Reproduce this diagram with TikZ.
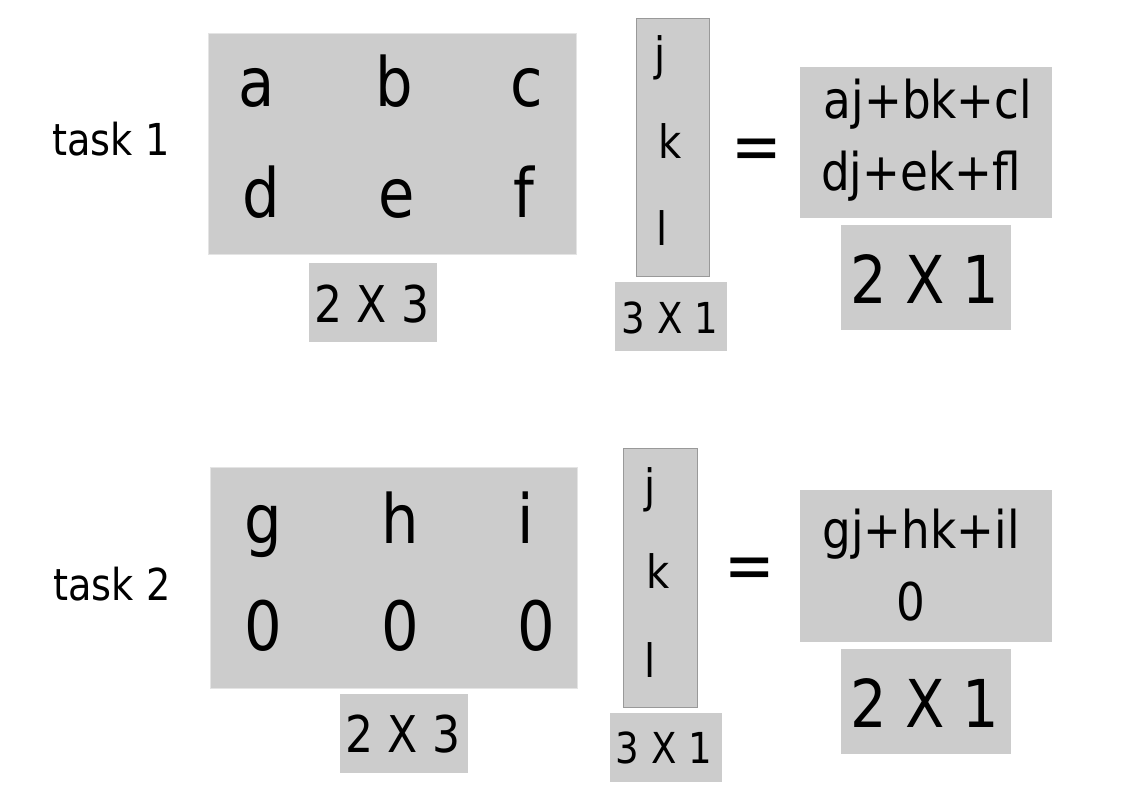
\documentclass[tikz,border=0pt]{standalone}
\usepackage{fontspec}
\setmainfont[FakeStretch=0.87]{DejaVu Sans}
\usetikzlibrary{fit, positioning}

\definecolor{boxgray}{HTML}{CCCCCC}
\definecolor{rimlight}{HTML}{E4E4E4}
\definecolor{rimdark}{HTML}{999999}

\begin{document}
\begin{tikzpicture}[
        x=0.75pt, y=-0.75pt,
        mat/.style={rectangle, fill=boxgray, draw=rimlight, line width=0.75pt, inner sep=0pt},
        vec/.style={rectangle, fill=boxgray, draw=rimdark, line width=0.75pt, inner sep=0pt},
        dimbox/.style={rectangle, fill=boxgray, draw=none, inner sep=0pt},
        entry/.style={anchor=base, inner sep=0pt, font=\fontsize{51}{60}\selectfont},
        ventry/.style={anchor=base, inner sep=0pt, font=\fontsize{34.5}{40}\selectfont},
        rentry/.style={anchor=base, inner sep=0pt, font=\fontsize{39}{46}\selectfont},
        tasklabel/.style={anchor=base, inner sep=0pt, font=\fontsize{33}{38}\selectfont},
        dimsmall/.style={anchor=base, inner sep=0pt, font=\fontsize{32}{38}\selectfont},
        dimmid/.style={anchor=base, inner sep=0pt, font=\fontsize{38}{44}\selectfont},
        dimbig/.style={anchor=base, inner sep=0pt, font=\fontsize{49.5}{56}\selectfont},
        equals/.style={inner sep=0pt, font=\fontsize{52}{60}\selectfont}
    ]
        \useasboundingbox (0,0) rectangle (1123,794);

        % --- TASK 1 ---
        \node[tasklabel] (task1) at (111,155) {task 1};

        \node[mat, fit={(208,33) (576,254)}] (mata) {};
        \node[entry] (a) at (257,106) {a};
        \node[entry] (b) at (394,106) {b};
        \node[entry] (c) at (527,106) {c};
        \node[entry] (d) at (261,217) {d};
        \node[entry] (e) at (397,217) {e};
        \node[entry] (f) at (524,217) {f};
        \node[dimbox, fit={(309,263) (437,342)}] (dima) {};
        \node[dimmid] (dimatext) at (372,322) {2 X 3};

        \node[vec, fit={(636,18) (709,276)}] (vecb) {};
        \node[ventry] (j1) at (660,70) {j};
        \node[ventry] (k1) at (670,158) {k};
        \node[ventry] (l1) at (662,245) {l};
        \node[dimbox, fit={(615,282) (727,351)}] (dimb) {};
        \node[dimsmall] (dimbtext) at (670,333) {3 X 1};

        \node[equals] (eq1) at (757,155) {=};

        \node[dimbox, fit={(800,67) (1052,218)}] (resa) {};
        \node[rentry] (resa1) at (928,118) {aj+bk+cl};
        \node[rentry] (resa2) at (921,190) {dj+ek+fl};
        \node[dimbox, fit={(841,225) (1011,330)}] (dimc) {};
        \node[dimbig] (dimctext) at (925,303) {2 X 1};

        % --- TASK 2 ---
        \node[tasklabel] (task2) at (112,600) {task 2};

        \node[mat, fit={(210,467) (577,688)}] (matc) {};
        \node[entry] (g) at (263,543) {g};
        \node[entry] (h) at (400,543) {h};
        \node[entry] (i) at (526,543) {i};
        \node[entry] (z1) at (263,650) {0};
        \node[entry] (z2) at (400,650) {0};
        \node[entry] (z3) at (536,650) {0};
        \node[dimbox, fit={(340,694) (468,773)}] (dimd) {};
        \node[dimmid] (dimdtext) at (403,752) {2 X 3};

        \node[vec, fit={(623,448) (697,707)}] (vecd) {};
        \node[ventry] (j2) at (650,502) {j};
        \node[ventry] (k2) at (658,588) {k};
        \node[ventry] (l2) at (650,677) {l};
        \node[dimbox, fit={(610,713) (722,782)}] (dime) {};
        \node[dimsmall] (dimetext) at (664,763) {3 X 1};

        \node[equals] (eq2) at (750,574) {=};

        \node[dimbox, fit={(800,490) (1052,642)}] (resb) {};
        \node[rentry] (resb1) at (921,548) {gj+hk+il};
        \node[rentry] (resb2) at (911,620) {0};
        \node[dimbox, fit={(841,649) (1011,754)}] (dimf) {};
        \node[dimbig] (dimftext) at (925,727) {2 X 1};

    \end{tikzpicture}
\end{document}
